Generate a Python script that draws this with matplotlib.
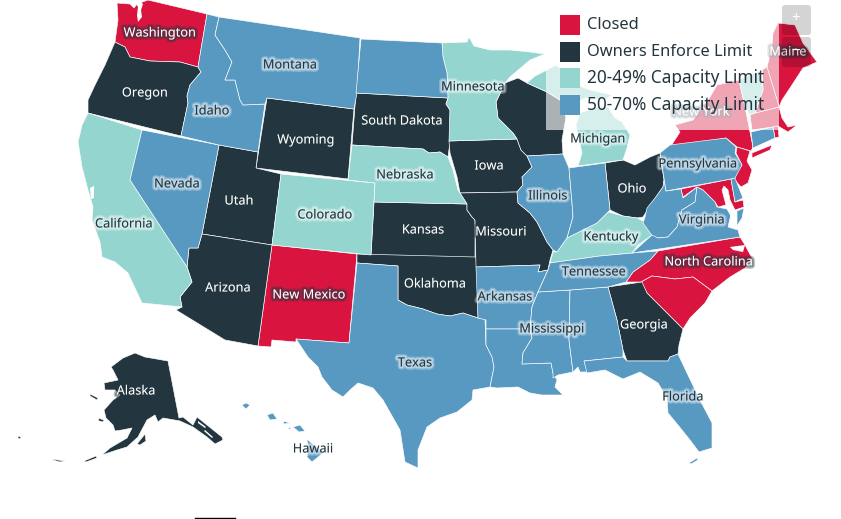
import matplotlib
matplotlib.use("Agg")
import matplotlib.pyplot as plt
import matplotlib.patheffects as pe
from matplotlib.patches import FancyBboxPatch, Rectangle

plt.rcParams['font.family'] = ['Noto Sans', 'DejaVu Sans']

# state outlines (x, y in image pixels)
washington = [(117,3),(130,4),(134,8),(137,4),(148,0),(207,14),(198,67),(180,62),(150,61),(130,57),(125,47),(115,42),(118,20)]
oregon = [(115,42),(125,47),(130,57),(150,61),(180,62),(198,67),(201,72),(190,85),(187,96),(188,103),(181,136),(88,113),(88,100),(95,85),(105,65)]
california = [(88,113),(142,130),(130,180),(187,267),(192,282),(180,297),(182,307),(142,303),(128,273),(115,262),(102,257),(100,242),(92,220),(93,207),(88,190),(82,167),(78,142),(82,125)]
nevada = [(142,130),(219,145),(202,234),(198,248),(189,248),(187,267),(130,180)]
idaho = [(207,14),(219,17),(215,35),(225,50),(232,62),(225,80),(235,80),(240,100),(243,105),(265,104),(258,152),(219,145),(181,136),(188,103),(187,96),(190,85),(201,72),(198,67)]
montana = [(219,17),(360,38),(357,93),(354,109),(267,98),(265,104),(243,105),(240,100),(235,80),(225,80),(232,62),(225,50),(215,35)]
wyoming = [(267,98),(354,109),(348,179),(256,168)]
utah = [(219,145),(258,152),(256,168),(281,174),(272,245),(202,234)]
arizona = [(202,234),(272,245),(258,346),(225,340),(176,310),(182,307),(180,297),(192,282),(187,267),(189,248),(198,248)]
colorado = [(281,174),(375,183),(371,255),(272,245)]
new_mexico = [(272,245),(357,254),(349,343),(296,339),(296,342),(272,340),(271,347),(258,346)]
north_dakota = [(361,39),(442,43),(443,57),(447,73),(448,98),(356,93)]
south_dakota = [(356,93),(448,98),(446,104),(450,110),(450,142),(448,157),(440,152),(429,153),(423,149),(352,145)]
nebraska = [(352,145),(423,149),(429,153),(440,152),(448,157),(453,170),(458,190),(467,204),(374,202),(375,183),(348,180)]
kansas = [(374,202),(467,204),(467,210),(472,217),(475,220),(475,258),(371,255)]
oklahoma = [(357,254),(476,257),(478,283),(478,318),(463,313),(450,316),(437,314),(423,309),(407,305),(398,300),(398,266),(357,263)]
texas = [(357,263),(398,266),(398,300),(407,305),(423,309),(437,314),(450,316),(463,313),(478,318),(485,319),(486,345),(492,357),(494,367),(490,387),(473,390),(472,400),(457,412),(440,418),(427,427),(418,450),(418,468),(405,462),(400,430),(383,400),(373,388),(358,383),(350,390),(343,397),(332,390),(322,377),(318,367),(308,357),(296,339),(349,343)]
minnesota = [(442,43),(467,42),(469,37),(474,46),(490,50),(510,50),(530,52),(545,54),(530,60),(510,77),(505,83),(496,102),(498,118),(513,133),(517,139),(449,141),(450,110),(446,104),(448,98),(447,73),(443,57)]
iowa = [(449,141),(517,139),(521,150),(527,156),(532,167),(522,177),(523,185),(517,192),(460,193),(457,177),(450,153)]
missouri = [(460,193),(517,192),(518,203),(530,213),(537,222),(547,242),(553,250),(550,260),(548,270),(538,272),(540,265),(476,267),(475,220),(472,217),(467,210),(467,204),(458,190)]
arkansas = [(476,267),(540,265),(538,272),(548,270),(538,292),(532,307),(530,329),(486,329),(486,320),(478,318)]
louisiana = [(486,329),(530,329),(532,338),(523,353),(522,364),(551,363),(553,373),(557,380),(555,387),(563,395),(542,395),(530,393),(518,387),(497,388),(490,387),(494,367),(492,357),(486,345)]
mississippi = [(538,292),(570,290),(569,340),(573,372),(558,375),(553,378),(553,373),(551,363),(522,364),(523,353),(532,338),(530,329),(532,307)]
alabama = [(570,290),(608,287),(617,320),(620,335),(623,350),(623,357),(584,361),(588,372),(580,372),(578,367),(573,372),(569,340)]
georgia = [(608,287),(642,282),(647,293),(667,313),(683,329),(679,345),(678,354),(670,357),(668,361),(627,361),(623,350),(620,335),(617,320)]
florida = [(584,361),(623,357),(627,361),(668,361),(670,357),(678,354),(687,373),(700,400),(712,423),(712,448),(699,452),(690,440),(678,425),(668,413),(667,398),(658,383),(640,372),(623,379),(605,370),(587,373)]
florida_keys = [(689,463),(697,458),(698,460),(691,464)]
south_carolina = [(641,282),(652,276),(675,279),(693,277),(712,291),(705,303),(690,318),(683,329),(667,313),(647,293)]
north_carolina = [(658,251),(740,237),(745,245),(752,258),(745,268),(730,277),(712,291),(693,277),(675,279),(652,276),(641,282),(626,282),(633,272),(650,260)]
tennessee = [(550,263),(600,256),(633,253),(658,251),(650,260),(633,272),(626,282),(608,287),(570,290),(538,292),(548,270)]
kentucky = [(550,263),(553,252),(557,252),(567,238),(583,230),(597,223),(608,212),(623,216),(637,218),(643,221),(652,235),(638,245),(632,253),(600,256)]
illinois = [(527,156),(563,154),(569,168),(572,203),(573,217),(567,238),(557,252),(553,250),(547,242),(537,222),(530,213),(518,203),(517,192),(523,185),(522,177),(532,167)]
indiana = [(569,168),(605,163),(610,210),(608,212),(597,223),(583,230),(567,238),(573,217),(572,203)]
ohio = [(605,163),(623,160),(635,165),(650,157),(660,153),(664,180),(663,187),(652,203),(643,217),(637,218),(623,216),(610,210)]
wisconsin = [(505,83),(518,78),(527,83),(547,92),(560,100),(566,117),(562,140),(563,154),(527,156),(521,150),(517,139),(513,133),(498,118),(496,102)]
michigan_up = [(527,83),(535,76),(547,70),(556,65),(562,70),(575,84),(590,90),(612,95),(605,100),(585,98),(572,105),(566,117),(560,100),(547,92)]
michigan_lp = [(580,113),(597,107),(608,107),(615,118),(622,122),(630,135),(627,148),(623,160),(578,166),(582,153),(578,135),(576,125)]
west_virginia = [(664,180),(666,191),(681,189),(683,198),(697,187),(695,202),(682,210),(677,227),(668,237),(658,238),(653,237),(643,223),(645,217),(647,208),(655,198),(663,187)]
virginia = [(740,237),(632,253),(652,235),(658,238),(668,237),(677,227),(682,210),(695,202),(697,187),(703,190),(715,202),(717,207),(732,210),(728,227),(738,230)]
virginia_shore = [(737,211),(744,208),(742,218),(737,226)]
maryland = [(681,189),(731,179),(735,202),(743,200),(744,207),(735,210),(730,200),(728,190),(724,186),(722,190),(726,205),(718,207),(715,202),(703,190),(697,187),(683,197)]
delaware = [(731,179),(735,178),(743,198),(735,202)]
pennsylvania = [(660,153),(670,145),(726,138),(736,147),(735,153),(742,165),(735,178),(731,179),(666,191)]
new_jersey = [(737,147),(750,151),(747,161),(752,170),(748,183),(741,187),(733,178),(742,165),(736,153)]
new_york = [(675,125),(693,120),(710,97),(717,85),(739,80),(745,107),(750,132),(753,147),(751,151),(737,147),(726,138),(669,149),(680,132)]
long_island = [(752,153),(772,145),(770,150),(752,158)]
vermont = [(739,80),(762,70),(763,90),(755,113),(750,115),(745,107)]
new_hampshire = [(762,70),(767,67),(778,103),(779,107),(755,113),(763,90)]
massachusetts = [(750,115),(755,113),(779,107),(782,118),(788,127),(797,125),(788,132),(778,126),(773,127),(752,130)]
connecticut = [(751,132),(773,127),(775,138),(753,148)]
rhode_island = [(773,127),(778,126),(779,137),(775,138)]
maine = [(773,33),(778,23),(795,25),(803,43),(817,62),(803,68),(790,88),(782,100),(779,107),(767,67),(772,47)]
alaska = [(135,353),(145,357),(168,361),(179,418),(183,417),(193,425),(197,417),(222,437),(223,440),(215,444),(207,437),(193,427),(180,421),(163,418),(158,422),(155,415),(147,420),(138,437),(127,447),(117,450),(102,455),(110,448),(127,438),(132,428),(122,430),(115,431),(113,425),(106,418),(104,410),(113,400),(120,395),(115,390),(105,390),(104,383),(118,380),(113,370),(111,367),(123,358)]
kodiak = [(137,444),(145,434),(146,441),(140,445)]
st_lawrence = [(90,394),(98,398),(97,400),(90,396)]
nunivak = [(98,418),(104,420),(103,422),(99,421)]
aleutian_a = [(84,461),(96,456),(97,458),(86,462)]
aleutian_b = [(52,459),(58,460),(65,461),(60,462),(53,460)]
aleutian_c = [(18,436),(21,437),(20,439),(18,438)]
hawaii_big = [(307,439),(323,453),(312,462),(307,457),(308,448)]
maui = [(293,427),(300,425),(305,431),(299,432)]
molokai = [(283,421),(290,423),(284,424)]
oahu = [(267,415),(273,413),(277,419),(270,420)]
kauai = [(242,405),(246,403),(250,405),(246,409)]
lanai = [(288,427),(291,428),(290,430)]

# water cut out of the shapes
puget_sound = [(136,4),(140,1),(143,4),(141,10),(142,17),(138,22),(137,15),(138,7)]
chesapeake = [(726,208),(735,211),(737,226),(731,226),(730,215)]
pamlico = [(730,247),(745,245),(743,252),(733,250)]
sf_bay = [(90,188),(94,186),(94,198),(91,199)]
alaska_inlet_a = [(198,421),(206,427),(205,428),(198,423)]
alaska_inlet_b = [(205,430),(213,437),(212,438),(204,431)]

closed = [washington, new_mexico, north_carolina, south_carolina, new_york, long_island, new_jersey, maryland, massachusetts, rhode_island, maine, new_hampshire]
owners_enforce = [oregon, wyoming, utah, arizona, south_dakota, kansas, oklahoma, iowa, missouri, wisconsin, ohio, georgia, alaska, kodiak, st_lawrence, nunivak, aleutian_a, aleutian_b, aleutian_c]
limit_20_49 = [california, colorado, nebraska, minnesota, kentucky, michigan_up, michigan_lp, vermont]
limit_50_70 = [nevada, idaho, montana, north_dakota, texas, arkansas, louisiana, mississippi, alabama, florida, florida_keys, tennessee, illinois, indiana, west_virginia, virginia, virginia_shore, pennsylvania, delaware, connecticut, hawaii_big, maui, molokai, oahu, kauai, lanai]

legend_labels = ['Closed', 'Owners Enforce Limit', '20-49% Capacity Limit', '50-70% Capacity Limit']
legend_sizes = [11.8, 11.8, 12.4, 12.4]
legend_colors = ['#D9143F', '#23363F', '#95D5CF', '#5899C1']

# label, x, y, on_dark
state_labels = [
    ('Washington',160,32,True), ('Oregon',145,92,True), ('Montana',290,64,False), ('Idaho',212,110,False),
    ('Wyoming',306,139,True), ('Nevada',177,183,False), ('Utah',239,200,True), ('California',124,223,False),
    ('Colorado',325,214,False), ('Arizona',228,287,True), ('New Mexico',309,294,True), ('Texas',415,362,False),
    ('Oklahoma',435,283,True), ('Kansas',423,229,True), ('Nebraska',405,174,False), ('South Dakota',402,120,True),
    ('Minnesota',473,86,False), ('Iowa',489,165,True), ('Missouri',501,231,True), ('Arkansas',505,296,False),
    ('Illinois',548,195,False), ('Mississippi',552,328,False), ('Tennessee',594,271,False), ('Kentucky',611,236,False),
    ('Ohio',632,188,True), ('Pennsylvania',698,163,False), ('Virginia',702,219,False), ('North Carolina',709,261,True),
    ('Georgia',644,324,True), ('Florida',683,396,False), ('New York',701,111,True), ('Michigan',598,138,False),
    ('Maine',788,51,True), ('Alaska',136,390,True), ('Hawaii',313,448,False),
]

fig = plt.figure(figsize=(8.41, 5.19), dpi=100)
ax = fig.add_axes([0, 0, 1, 1])
ax.set_xlim(0, 841)
ax.set_ylim(519, 0)
ax.axis('off')

groups = [closed, owners_enforce, limit_20_49, limit_50_70]
for group, color in zip(groups, legend_colors):
    for outline in group:
        xs, ys = zip(*outline)
        ax.fill(xs, ys, facecolor=color, edgecolor='white', linewidth=0.45, zorder=2)

for outline in [puget_sound, chesapeake, pamlico, sf_bay, alaska_inlet_a, alaska_inlet_b]:
    xs, ys = zip(*outline)
    ax.fill(xs, ys, facecolor='white', edgecolor='none', zorder=3)

for name, x, y, on_dark in state_labels:
    # the halo is see-through, dark under white text and white under dark text
    color = 'white' if on_dark else '#23363F'
    halo = '#23363F' if on_dark else 'white'
    ax.text(x, y + 1, name, color=color, fontsize=9.2, ha='center', va='center', zorder=4,
            path_effects=[pe.Stroke(linewidth=4.5, foreground=halo, alpha=0.3),
                          pe.Stroke(linewidth=2.6, foreground=halo, alpha=0.4),
                          pe.Normal()])

# pale box behind the legend, it covers the map and labels
ax.add_patch(Rectangle((546, 0), 233, 130, facecolor='white', alpha=0.62, edgecolor='none', zorder=5))

for i, (label, size, color) in enumerate(zip(legend_labels, legend_sizes, legend_colors)):
    top = 15 + i * 26.7
    ax.add_patch(Rectangle((560, top), 20, 20, facecolor=color, edgecolor='none', zorder=6))
    ax.text(587, top + 10, label, color='#23363F', fontsize=size, ha='left', va='center', zorder=6)

# zoom buttons
for top, sign in [(5, '+'), (37, '\u2212')]:
    ax.add_patch(FancyBboxPatch((784, top + 2), 25, 26, boxstyle='round,pad=2,rounding_size=3',
                                facecolor='black', alpha=0.17, edgecolor='none', zorder=7))
    ax.text(796, top + 14, sign, color='white', fontsize=11, ha='center', va='center', zorder=8)

# scale bar at the bottom edge
ax.plot([195, 235], [518, 518], color='black', linewidth=1, zorder=3)

fig.savefig('out.png', dpi=100)
